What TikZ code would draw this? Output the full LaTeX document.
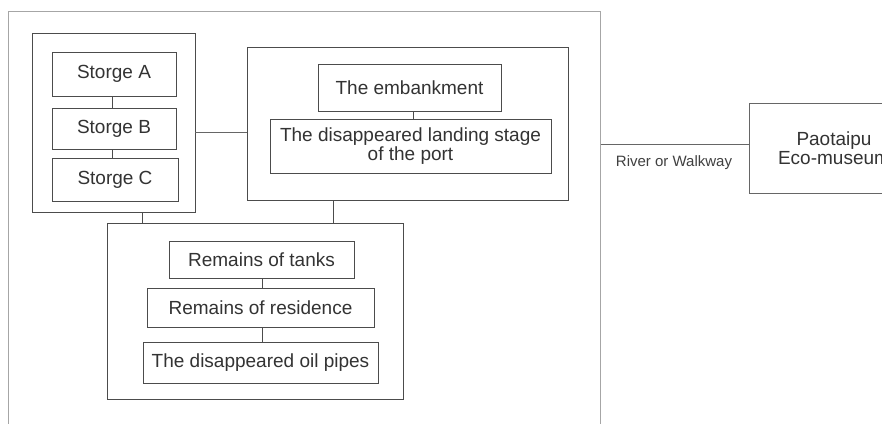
\documentclass[tikz,border=0pt]{standalone}
\usepackage{fontspec}
\setmainfont{Liberation Sans}
\begin{document}
\begin{tikzpicture}[x=1pt,y=-1pt,
  frm/.style={draw=black!35, line width=0.8pt, inner sep=0pt},
  grp/.style={draw=black!70, line width=0.9pt, inner sep=0pt},
  box/.style={draw=black!70, line width=0.9pt, inner sep=0pt, align=center,
    text=black!80, font=\fontsize{19}{19}\selectfont},
  link/.style={draw=black!70, line width=0.8pt},
  thin link/.style={draw=black!60, line width=0.6pt},
  lbl/.style={inner sep=0pt, text=black!75, font=\fontsize{15}{15}\selectfont}]
\clip (0,0) rectangle (882,423);
\fill[white] (0,0) rectangle (882,423);
% outer frame
\node[frm, minimum width=592pt, minimum height=440pt, anchor=north west] (frame) at (8,11) {};
% left group
\node[grp, minimum width=163pt, minimum height=179pt] (grpL) at (113.5,122.5) {};
\node[box, minimum width=124pt, minimum height=44pt] (A) at (114,74) {Storge A};
\node[box, minimum width=124pt, minimum height=41pt] (B) at (114,128.5) {Storge B};
\node[box, minimum width=126pt, minimum height=43pt] (C) at (115,179.5) {Storge C};
\draw[link] (A.south -| 112,0) -- (B.north -| 112,0);
\draw[link] (B.south -| 112,0) -- (C.north -| 112,0);
% middle group
\node[grp, minimum width=321pt, minimum height=153pt] (grpM) at (407.5,123.5) {};
\node[box, minimum width=183pt, minimum height=47pt] (E) at (409.5,87.5) {The embankment};
\node[box, minimum width=281pt, minimum height=54pt] (L) at (410.5,146) {The disappeared landing stage\\of the port};
\draw[link] (E.south -| 413,0) -- (L.north -| 413,0);
% bottom group
\node[grp, minimum width=296pt, minimum height=176pt] (grpB) at (255,311) {};
\node[box, minimum width=185pt, minimum height=37pt] (T) at (261.5,259.5) {Remains of tanks};
\node[box, minimum width=227pt, minimum height=39pt] (R) at (260.5,307.5) {Remains of residence};
\node[box, minimum width=235pt, minimum height=41pt] (P) at (260.5,362.5) {The disappeared oil pipes};
\draw[link] (T.south -| 262,0) -- (R.north -| 262,0);
\draw[link] (R.south -| 262,0) -- (P.north -| 262,0);
% group connectors
\draw[thin link] ([yshift=-9.5pt]grpL.east) -- ([yshift=-9.5pt]grpL.east -| grpM.west);
\draw[link] ([xshift=28.5pt]grpL.south) -- ([xshift=28.5pt]grpL.south |- grpB.north);
\draw[link] ([xshift=-74.5pt]grpM.south) -- ([xshift=-74.5pt]grpM.south |- grpB.north);
% right side
\node[box, draw=black!60, minimum width=170pt, minimum height=90pt] (M) at (834,148) {Paotaipu\\Eco-museum};
\draw[thin link] ([yshift=4pt]M.west -| frame.east) -- ([yshift=4pt]M.west);
\node[lbl] (rw) at (674,163) {River or Walkway};
\end{tikzpicture}
\end{document}
